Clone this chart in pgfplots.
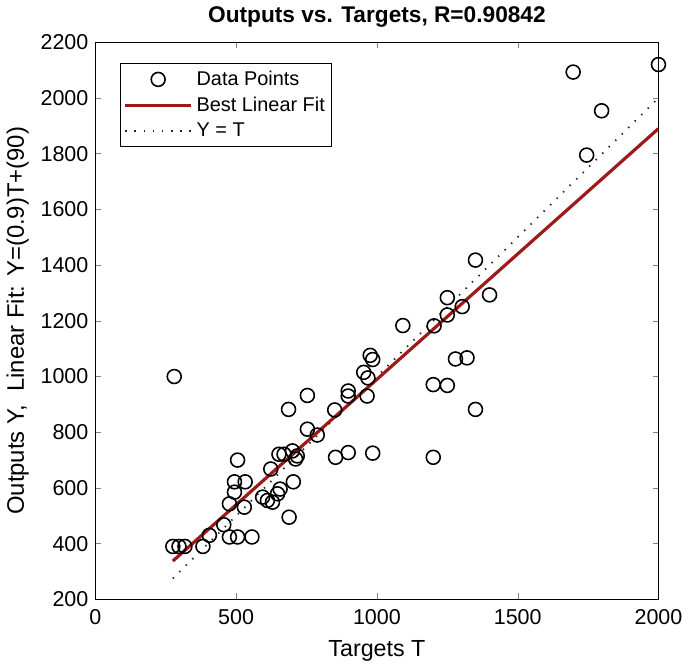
\documentclass[border=0pt]{standalone}
\usepackage{fontspec}
\setmainfont{Liberation Sans}
\usepackage{pgfplots}
\pgfplotsset{compat=1.18}
\definecolor{fitred}{RGB}{160,25,25}
\pgfplotsset{
  marklegend/.style={legend image code/.code={\draw[mark repeat=2,mark phase=2,##1] plot coordinates {(0pt,0pt) (16.5pt,0pt) (33pt,0pt)};}},
  linelegend/.style={legend image code/.code={\draw[##1] (0pt,0pt) -- (33pt,0pt);}},
}

\begin{document}
\begin{tikzpicture}
\begin{axis}[
  scale only axis,
  width=283pt, height=280pt,
  xmin=0, xmax=2000, ymin=200, ymax=2200,
  xtick={0,500,1000,1500,2000},
  ytick={200,400,...,2200},
  tick align=inside,
  major tick length=3pt,
  scaled ticks=false,
  /pgf/number format/assume math mode=true,
  /pgf/number format/1000 sep={},
  tick label style={font=\fontsize{10.8}{12}\selectfont},
  xticklabel style={yshift=-1.5pt},
  title={\bfseries Outputs vs. Targets, R=0.90842},
  title style={font=\fontsize{11.4}{13}\selectfont, yshift=-2pt},
  xlabel={Targets T},
  ylabel={Outputs Y,\ \ Linear Fit: Y=(0.9)T+(90)},
  xlabel style={font=\fontsize{11.7}{13}\selectfont, yshift=-1pt},
  ylabel style={font=\fontsize{12}{13}\selectfont, yshift=-1pt},
  axis line style={line width=0.7pt},
  legend style={at={(rel axis cs:0.044,0.9625)}, anchor=north west,
    font=\fontsize{10}{11}\selectfont, draw=black, line width=0.6pt,
    inner sep=1.5pt, row sep=0.3pt},
  legend cell align=left,
]
\addplot[only marks, mark=o, mark size=3.5pt, mark options={line width=0.8pt, black}, marklegend]
coordinates {
(280,1000) (275,390) (297,390) (318,390) (382,390) (405,430) (456,468)
(476,424) (505,424) (556,424) (476,543) (494,585) (494,622) (532,622)
(529,531) (505,700) (594,567) (611,555) (629,549) (647,579) (656,596)
(623,668) (652,721) (670,721) (700,733) (711,704) (717,715) (703,622)
(688,495) (686,882) (753,811) (788,790) (753,932) (850,880) (853,710)
(898,727) (898,948) (898,930) (985,725) (965,930) (953,1015) (968,995)
(976,1076) (985,1061) (1350,1418) (1400,1293) (1250,1283) (1250,1221)
(1303,1251) (1203,1182) (1092,1183) (1279,1063) (1320,1067) (1200,971)
(1250,968) (1350,882) (1200,710) (1697,2093) (2000,2120) (1798,1954)
(1745,1795)
};
\addlegendentry{Data Points}
\addplot[fitred, line width=1.6pt, linelegend]
  coordinates {(275,337.5) (2000,1890)};
\addlegendentry{Best Linear Fit}
\addplot[black!85, line width=0.9pt, dash pattern=on 0.7pt off 3.9pt, linelegend]
  coordinates {(275,275) (2000,2000)};
\addlegendentry{Y = T}
\end{axis}
\end{tikzpicture}
\end{document}
